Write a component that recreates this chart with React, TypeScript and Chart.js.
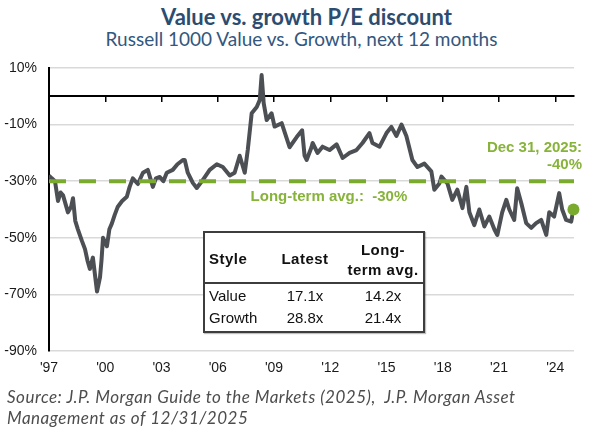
import React, { useEffect, useRef } from "react";
import { Chart, registerables } from "chart.js";

Chart.register(...registerables);

// ---- data ----
const years = [
  1997.0, 1997.15, 1997.32, 1997.48, 1997.62, 1997.75, 1998.01, 1998.18, 1998.28, 1998.4,
  1998.54, 1998.75, 1998.92, 1999.05, 1999.18, 1999.34, 1999.45, 1999.56, 1999.72, 1999.8,
  1999.88, 2000.09, 2000.22, 2000.35, 2000.5, 2000.67, 2000.9, 2001.15, 2001.3, 2001.47,
  2001.74, 2002.01, 2002.27, 2002.54, 2002.7, 2002.91, 2003.1, 2003.28, 2003.6, 2003.85,
  2004.14, 2004.24, 2004.4, 2004.67, 2004.88, 2005.2, 2005.57, 2005.95, 2006.27, 2006.64,
  2006.9, 2007.17, 2007.44, 2007.6, 2007.81, 2008.08, 2008.24, 2008.34, 2008.45, 2008.61,
  2008.87, 2009.03, 2009.41, 2009.83, 2010.21, 2010.5, 2010.63, 2010.74, 2011.0, 2011.06,
  2011.32, 2011.59, 2011.96, 2012.34, 2012.66, 2013.03, 2013.4, 2013.72, 2014.09, 2014.25,
  2014.63, 2015.0, 2015.26, 2015.53, 2015.8, 2016.06, 2016.38, 2016.65, 2017.02, 2017.39,
  2017.55, 2017.82, 2017.93, 2018.25, 2018.51, 2018.78, 2019.05, 2019.26, 2019.42, 2019.68,
  2019.95, 2020.22, 2020.48, 2020.75, 2020.91, 2021.17, 2021.39, 2021.55, 2021.81, 2021.97,
  2022.19, 2022.45, 2022.72, 2022.98, 2023.25, 2023.52, 2023.68, 2023.94, 2024.21, 2024.37,
  2024.58, 2024.85, 2024.97,
];
const discount = [
  -28, -29, -30, -37, -34, -35, -41, -39, -36, -44,
  -47, -51, -54, -58, -61, -57, -63, -69, -64, -58,
  -50, -53, -47, -45, -42, -39, -37, -35.5, -32, -29,
  -31, -27, -26, -32, -29, -28.5, -30, -27, -26, -24,
  -22.5, -22.5, -27, -30.6, -32.4, -29.6, -26, -24, -25, -28,
  -27, -21, -27, -19, -6, -3.8, -1.3, 7.5, -2.4, -8.4,
  -6, -10.7, -9.5, -18, -14.4, -12, -21, -22.5, -18, -16.5,
  -20, -17.8, -19, -17, -21.8, -20, -19, -16.5, -13, -16.5,
  -17.8, -13, -10.8, -14, -10, -14, -22.5, -25, -23.8, -26.5,
  -33, -30.8, -28.4, -30.8, -36.6, -33, -39.5, -32, -41, -45.5,
  -40, -46, -42.5, -47, -49, -41, -36.6, -40, -43.7, -32.5,
  -37.8, -44.8, -46.5, -44.8, -43.7, -49, -41, -42.5, -34.2, -40,
  -43.7, -44.3, -40,
];
const longTermAvg = -30;
const latestYear = 2024.97;
const latestValue = -40;
const xTickYears = [1997, 2000, 2003, 2006, 2009, 2012, 2015, 2018, 2021, 2024];
const yMin = -90;
const yMax = 10;
const yStep = 20;
const xMin = 1997;
const xMax = 2025;

const avgLabel = "Long-term avg.:  -30%";
const latestLabel1 = "Dec 31, 2025:";
const latestLabel2 = "-40%";

const tableStyles = ["Value", "Growth"];
const tableLatest = ["17.1x", "28.8x"];
const tableLongTerm = ["14.2x", "21.4x"];

const GREEN = "#7aab2f";
const GREEN_TEXT = "#88b33b";
const AXIS_FONT = '"Liberation Sans", Arial, sans-serif';

const labelPlugin = {
  id: "annotLabels",
  afterDatasetsDraw(chart: any) {
    const { ctx, scales, chartArea } = chart;
    const x = scales.x;
    const y = scales.y;
    const yAvg = y.getPixelForValue(longTermAvg);
    ctx.save();
    ctx.fillStyle = GREEN_TEXT;
    ctx.font = `bold 15px ${AXIS_FONT}`;
    ctx.textBaseline = "middle";
    ctx.textAlign = "left";
    ctx.fillText(avgLabel, x.getPixelForValue(2007.75), yAvg + 16);
    ctx.textAlign = "right";
    ctx.fillText(latestLabel1, chartArea.right + 8, yAvg - 33);
    ctx.fillText(latestLabel2, chartArea.right + 8, yAvg - 16);
    ctx.restore();
  },
};

function ChartCanvas() {
  const ref = useRef<HTMLCanvasElement | null>(null);
  useEffect(() => {
    if (!ref.current) return;
    const points = years.map((yr, i) => ({ x: yr, y: discount[i] }));
    const setTicks = (scale: any) => {
      scale.ticks = xTickYears.map((v) => ({ value: v }));
    };
    const chart = new Chart(ref.current, {
      type: "line",
      data: {
        datasets: [
          {
            label: "Latest",
            data: [{ x: latestYear, y: latestValue }],
            showLine: false,
            pointRadius: 6,
            pointBackgroundColor: GREEN,
            pointBorderColor: GREEN,
            pointBorderWidth: 0,
            clip: 10,
          },
          {
            label: "Long-term avg.",
            data: [
              { x: xMin, y: longTermAvg },
              { x: xMax, y: longTermAvg },
            ],
            borderColor: GREEN,
            borderWidth: 4,
            borderDash: [17, 13],
            pointRadius: 0,
          },
          {
            label: "Value vs. growth P/E discount",
            data: points,
            borderColor: "#4c4f53",
            borderWidth: 4,
            pointRadius: 0,
            tension: 0,
            borderJoinStyle: "round",
          },
        ],
      },
      options: {
        animation: false,
        responsive: false,
        devicePixelRatio: 1,
        layout: { padding: { top: 68, right: 16, bottom: 49, left: 0 } },
        plugins: { legend: { display: false }, tooltip: { enabled: false }, title: { display: false } },
        scales: {
          x: {
            type: "linear",
            min: xMin,
            max: xMax,
            afterBuildTicks: setTicks,
            afterFit: (s: any) => {
              s.height = 30;
            },
            grid: { display: false, drawTicks: false },
            border: { display: false },
            ticks: {
              autoSkip: false,
              maxRotation: 0,
              padding: 9,
              color: "#1a1a1a",
              font: { family: AXIS_FONT, size: 14 },
              callback: (v: any) => "'" + String(v).slice(2),
            },
          },
          x2: {
            type: "linear",
            min: xMin,
            max: xMax,
            position: { y: 0 } as any,
            afterBuildTicks: setTicks,
            grid: {
              drawOnChartArea: false,
              drawTicks: true,
              tickLength: 5,
              color: "#000",
              lineWidth: 1.5,
            },
            border: { display: true, color: "#000", width: 2 },
            ticks: { display: false },
          },
          y: {
            type: "linear",
            min: yMin,
            max: yMax,
            afterFit: (s: any) => {
              s.width = 49;
            },
            grid: { color: "#d9d9d9", lineWidth: 1.5, drawTicks: false },
            border: { display: true, color: "#000", width: 2 },
            ticks: {
              stepSize: yStep,
              padding: 12,
              color: "#1a1a1a",
              font: { family: AXIS_FONT, size: 14 },
              callback: (v: any) => `${v}%`,
            },
          },
        },
      },
      plugins: [labelPlugin],
    });
    return () => chart.destroy();
  }, []);
  return (
    <canvas
      ref={ref}
      width={590}
      height={430}
      style={{ position: "absolute", left: 0, top: 0, width: 590, height: 430 }}
    />
  );
}

const cellBold: React.CSSProperties = {
  position: "absolute",
  fontFamily: AXIS_FONT,
  fontWeight: "bold",
  fontSize: 15,
  letterSpacing: 0.5,
  color: "#111",
  whiteSpace: "nowrap",
  lineHeight: "18px",
};
const cell: React.CSSProperties = {
  position: "absolute",
  fontFamily: AXIS_FONT,
  fontSize: 15,
  color: "#111",
  whiteSpace: "nowrap",
  lineHeight: "18px",
};

function StyleTable() {
  return (
    <div
      style={{
        position: "absolute",
        left: 203,
        top: 231,
        width: 218,
        height: 98,
        border: "2px solid #3d3d3d",
        background: "#fff",
        boxShadow: "1px 1px 1px rgba(0,0,0,0.25)",
      }}
    >
      <div
        style={{
          position: "absolute",
          left: 0,
          right: 0,
          top: 49,
          height: 0,
          borderTop: "2px solid #3d3d3d",
        }}
      />
      <div style={{ ...cellBold, left: 4, top: 17 }}>Style</div>
      <div style={{ ...cellBold, left: 60, width: 80, textAlign: "center", top: 17 }}>Latest</div>
      <div style={{ ...cellBold, left: 138, width: 80, textAlign: "center", top: 8 }}>Long-</div>
      <div style={{ ...cellBold, left: 138, width: 80, textAlign: "center", top: 28 }}>term avg.</div>
      {tableStyles.map((s, i) => (
        <React.Fragment key={s}>
          <div style={{ ...cell, left: 4, top: 54 + i * 22 }}>{s}</div>
          <div style={{ ...cell, left: 60, width: 80, textAlign: "center", top: 54 + i * 22 }}>
            {tableLatest[i]}
          </div>
          <div style={{ ...cell, left: 138, width: 80, textAlign: "center", top: 54 + i * 22 }}>
            {tableLongTerm[i]}
          </div>
        </React.Fragment>
      ))}
    </div>
  );
}

export default function App() {
  return (
    <div
      style={{
        position: "fixed",
        left: 0,
        top: 0,
        width: 590,
        height: 430,
        background: "#fff",
        overflow: "hidden",
      }}
    >
      <div
        style={{
          position: "absolute",
          left: 0,
          width: 613,
          top: 3,
          textAlign: "center",
          fontFamily: "Lato, sans-serif",
          fontWeight: "bold",
          fontSize: 22,
          lineHeight: "27px",
          color: "#2c4c70",
          whiteSpace: "nowrap",
        }}
      >
        Value vs. growth P/E discount
      </div>
      <div
        style={{
          position: "absolute",
          left: 0,
          width: 603,
          top: 27,
          textAlign: "center",
          fontFamily: "Lato, sans-serif",
          fontSize: 19,
          lineHeight: "23px",
          color: "#33577e",
          whiteSpace: "nowrap",
        }}
      >
        Russell 1000 Value vs. Growth, next 12 months
      </div>
      <ChartCanvas />
      <StyleTable />
      <div
        style={{
          position: "absolute",
          left: 7,
          top: 386,
          fontFamily: "Lato, sans-serif",
          fontStyle: "italic",
          fontSize: 17,
          letterSpacing: 0.5,
          lineHeight: "21px",
          color: "#4d4d4d",
          whiteSpace: "pre",
        }}
      >
        {"Source: J.P. Morgan Guide to the Markets (2025),  J.P. Morgan Asset\nManagement as of 12/31/2025"}
      </div>
    </div>
  );
}
